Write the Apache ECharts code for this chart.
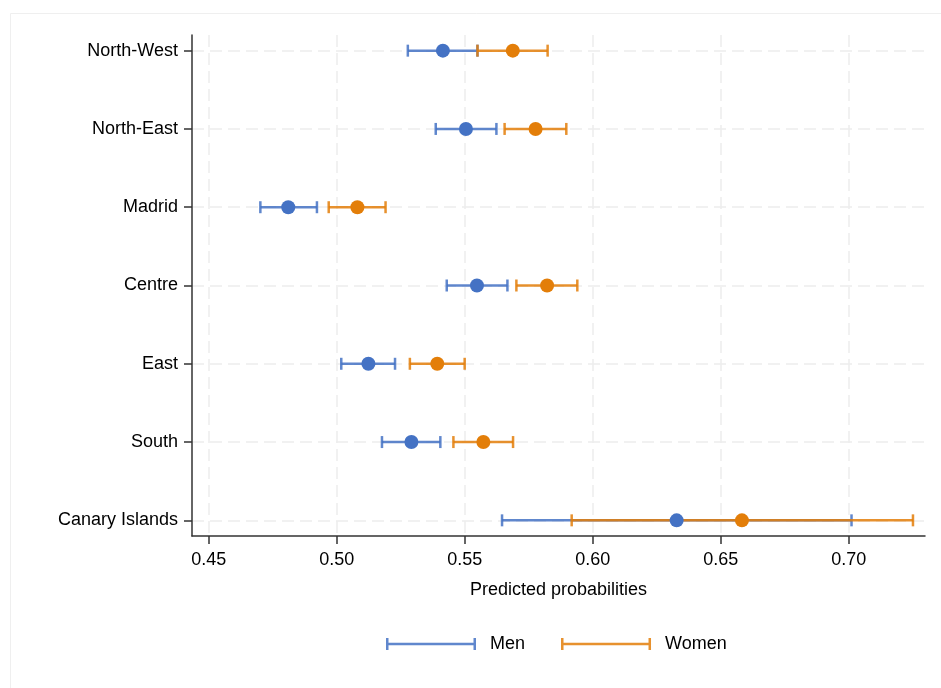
<!DOCTYPE html>
<html>
<head>
<meta charset="utf-8">
<style>
html,body{margin:0;padding:0;background:#fff;}
#chart{width:941px;height:688px;}
</style>
<script src="https://cdn.jsdelivr.net/npm/echarts@6/dist/echarts.min.js"></script>
</head>
<body>
<div id="chart"></div>
<script>
var regions = ['North-West', 'North-East', 'Madrid', 'Centre', 'East', 'South', 'Canary Islands'];
var menEst   = [0.5415, 0.5505, 0.4811, 0.5548, 0.5124, 0.5292, 0.6328];
var menLow   = [0.5278, 0.5387, 0.4702, 0.5430, 0.5018, 0.5177, 0.5646];
var menHigh  = [0.5550, 0.5624, 0.4923, 0.5667, 0.5228, 0.5405, 0.7011];
var womenEst  = [0.5688, 0.5777, 0.5081, 0.5822, 0.5393, 0.5573, 0.6583];
var womenLow  = [0.5550, 0.5656, 0.4969, 0.5702, 0.5286, 0.5456, 0.5918];
var womenHigh = [0.5824, 0.5897, 0.5191, 0.5940, 0.5500, 0.5689, 0.7251];
var xTicks = [0.45, 0.50, 0.55, 0.60, 0.65, 0.70];
var seriesNames = ['Men', 'Women'];
var xTitle = 'Predicted probabilities';

var BLUE = '#4472C4', ORANGE = '#E37E09';
var FONT = '"Liberation Sans", Arial, Helvetica, sans-serif';
var rowIdx = regions.map(function (_, i) { return i; });

function ciData(low, high) {
  return low.map(function (l, i) { return [l, high[i], i]; });
}
function ptData(est) {
  return est.map(function (v, i) { return [v, i]; });
}
function makeRender(color) {
  return function (params, api) {
    var p1 = api.coord([api.value(0), api.value(2)]);
    var p2 = api.coord([api.value(1), api.value(2)]);
    var h = 6;
    var st = { stroke: color, lineWidth: 2.5, opacity: 0.85 };
    return {
      type: 'group',
      children: [
        { type: 'line', shape: { x1: p1[0], y1: p1[1], x2: p2[0], y2: p2[1] }, style: st },
        { type: 'line', shape: { x1: p1[0], y1: p1[1] - h, x2: p1[0], y2: p1[1] + h }, style: st },
        { type: 'line', shape: { x1: p2[0], y1: p2[1] - h, x2: p2[0], y2: p2[1] + h }, style: st }
      ]
    };
  };
}

var chart = echarts.init(document.getElementById('chart'), null, { renderer: 'canvas' });
var legendIcon = 'path://M0,0h2.5v12h-2.5z M0,4.75h90v2.5h-90z M87.5,0h2.5v12h-2.5z';

chart.setOption({
  animation: false,
  backgroundColor: '#fff',
  textStyle: { fontFamily: FONT },
  graphic: [{
    type: 'rect', left: 8, top: 11, silent: true,
    shape: { width: 960, height: 700 },
    style: { fill: 'none', stroke: '#efefef', lineWidth: 1 }
  }],
  grid: { left: 192, right: 16, top: 35, bottom: 152 },
  xAxis: {
    type: 'value', min: 0.4435, max: 0.7298,
    name: xTitle, nameLocation: 'middle', nameGap: 45,
    nameTextStyle: { fontSize: 18, color: '#000', fontFamily: FONT },
    axisLine: { show: true, onZero: false, lineStyle: { color: '#333', width: 1.5 } },
    axisTick: { show: true, length: 8, customValues: xTicks, lineStyle: { color: '#333', width: 1.5 } },
    axisLabel: { customValues: xTicks, margin: 15, fontSize: 18, color: '#000', fontFamily: FONT,
      formatter: function (v) { return v.toFixed(2); } },
    splitLine: { show: true, lineStyle: { color: '#ededed', width: 1.5, type: [12, 6] } }
  },
  yAxis: {
    type: 'value', min: -0.2, max: 6.2, inverse: true,
    axisLine: { show: true, onZero: false, lineStyle: { color: '#333', width: 1.5 } },
    axisTick: { show: true, length: 8, customValues: rowIdx, lineStyle: { color: '#333', width: 1.5 } },
    axisLabel: { customValues: rowIdx, margin: 14, fontSize: 18, color: '#000', fontFamily: FONT,
      formatter: function (v) { return regions[Math.round(v)]; } },
    splitLine: { show: true, lineStyle: { color: '#ededed', width: 1.5, type: [12, 6] } }
  },
  legend: {
    left: 381, top: 630,
    itemWidth: 90, itemHeight: 12, itemGap: 36,
    textStyle: { fontSize: 18, color: '#000', fontFamily: FONT, padding: [0, 0, 0, 9] },
    data: [
      { name: seriesNames[0], icon: legendIcon, itemStyle: { color: BLUE, opacity: 0.85 } },
      { name: seriesNames[1], icon: legendIcon, itemStyle: { color: ORANGE, opacity: 0.85 } }
    ]
  },
  series: [
    { type: 'custom', name: seriesNames[0], renderItem: makeRender(BLUE), itemStyle: { color: BLUE },
      encode: { x: [0, 1], y: 2 }, data: ciData(menLow, menHigh), z: 2 },
    { type: 'custom', name: seriesNames[1], renderItem: makeRender(ORANGE), itemStyle: { color: ORANGE },
      encode: { x: [0, 1], y: 2 }, data: ciData(womenLow, womenHigh), z: 3 },
    { type: 'scatter', name: seriesNames[0], symbol: 'circle', symbolSize: 14,
      itemStyle: { color: BLUE, opacity: 1 }, data: ptData(menEst), z: 4 },
    { type: 'scatter', name: seriesNames[1], symbol: 'circle', symbolSize: 14,
      itemStyle: { color: ORANGE, opacity: 1 }, data: ptData(womenEst), z: 5 }
  ]
});
</script>
</body>
</html>
